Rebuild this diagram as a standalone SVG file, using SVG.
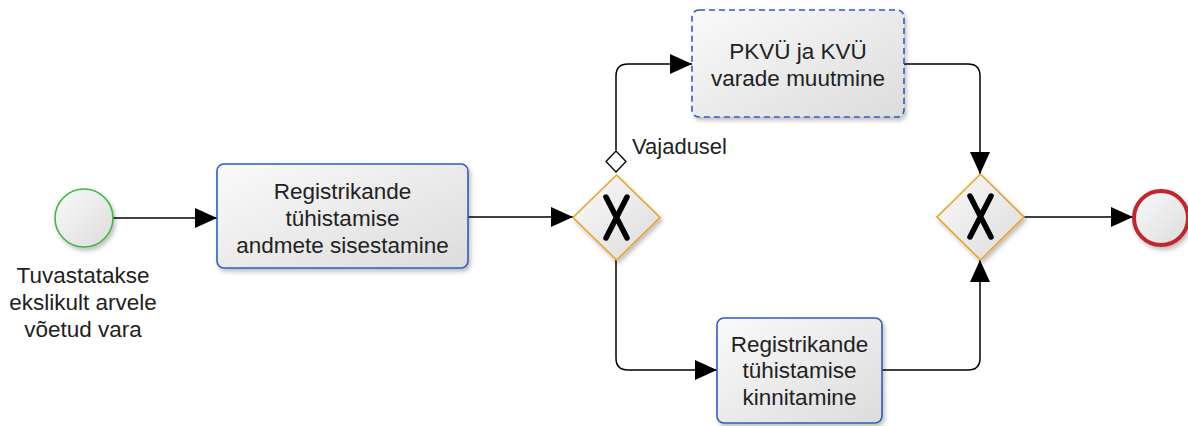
<svg xmlns="http://www.w3.org/2000/svg" width="1188" height="426" viewBox="0 0 1188 426">
<style>
.t{font-family:"Liberation Sans",Arial,sans-serif;font-size:22.5px;fill:#222;text-anchor:middle}
.lbl{font-family:"Liberation Sans",Arial,sans-serif;font-size:22px;fill:#222}
.task{fill:url(#g);stroke:#2f5cc4;stroke-width:1.6;filter:url(#sh)}
.gw{fill:url(#g);stroke:#e8a325;stroke-width:1.6;filter:url(#sh)}
.c{fill:none;stroke:#000;stroke-width:1.5}
.x{stroke:#000;stroke-width:5.5;stroke-linecap:round;fill:none}
</style>
<defs>
<linearGradient id="g" x1="0" y1="0" x2="1" y2="1">
<stop offset="0" stop-color="#fafafa"/><stop offset="1" stop-color="#dcdcdc"/>
</linearGradient>
<filter id="sh" x="-10%" y="-10%" width="130%" height="130%">
<feDropShadow dx="2" dy="3" stdDeviation="2" flood-color="#000" flood-opacity="0.25"/>
</filter>
<marker id="a" viewBox="0 0 22 20" refX="22" refY="10" markerWidth="22" markerHeight="20" markerUnits="userSpaceOnUse" orient="auto">
<path d="M0,0 L22,10 L0,20 Z" fill="#000"/>
</marker>
</defs>
<g id="connectors">
<path class="c" d="M113,218 H217" marker-end="url(#a)"/>
<path class="c" d="M468,217 H573" marker-end="url(#a)"/>
<path class="c" d="M616,150 V76 Q616,64 628,64 H692" marker-end="url(#a)"/>
<path d="M616,151 L626,161.5 L616,172 L606,161.5 Z" fill="#fff" stroke="#000" stroke-width="1.3"/>
<path class="c" d="M904,64 H968 Q980,64 980,76 V174" marker-end="url(#a)"/>
<path class="c" d="M616,260 V358 Q616,370 628,370 H717" marker-end="url(#a)"/>
<path class="c" d="M882,370 H968 Q980,370 980,358 V260" marker-end="url(#a)"/>
<path class="c" d="M1024,217 H1133" marker-end="url(#a)"/>
<text class="lbl" x="632" y="154">Vajadusel</text>
</g>
<g id="start">
<circle cx="84" cy="218" r="29" fill="url(#g)" stroke="#3cb83c" stroke-width="1.6" filter="url(#sh)"/>
<text class="t" x="83" y="283">Tuvastatakse</text>
<text class="t" x="83" y="310">ekslikult arvele</text>
<text class="t" x="83" y="337">võetud vara</text>
</g>
<g id="task1">
<rect class="task" x="217" y="164" width="251" height="104" rx="7"/>
<text class="t" x="342.5" y="199">Registrikande</text>
<text class="t" x="342.5" y="226">tühistamise</text>
<text class="t" x="342.5" y="253">andmete sisestamine</text>
</g>
<g id="gw1">
<path class="gw" d="M616.5,175 L660,217.5 L616.5,260 L573,217.5 Z"/>
<path class="x" d="M606,197 L627,238 M627,197 L606,238"/>
</g>
<g id="task2">
<rect class="task" x="692" y="10" width="212" height="107" rx="7" stroke-dasharray="6,4"/>
<text class="t" x="798" y="59">PKVÜ ja KVÜ</text>
<text class="t" x="798" y="86">varade muutmine</text>
</g>
<g id="task3">
<rect class="task" x="717" y="318" width="165" height="105" rx="7"/>
<text class="t" x="799.5" y="352">Registrikande</text>
<text class="t" x="799.5" y="378">tühistamise</text>
<text class="t" x="799.5" y="405">kinnitamine</text>
</g>
<g id="gw2">
<path class="gw" d="M980.5,174 L1024,217 L980.5,260 L937,217 Z"/>
<path class="x" d="M970,196 L991,237 M991,196 L970,237"/>
</g>
<g id="end">
<circle cx="1161" cy="218" r="27" fill="url(#g)" stroke="#c0282d" stroke-width="4" filter="url(#sh)"/>
</g>
</svg>
